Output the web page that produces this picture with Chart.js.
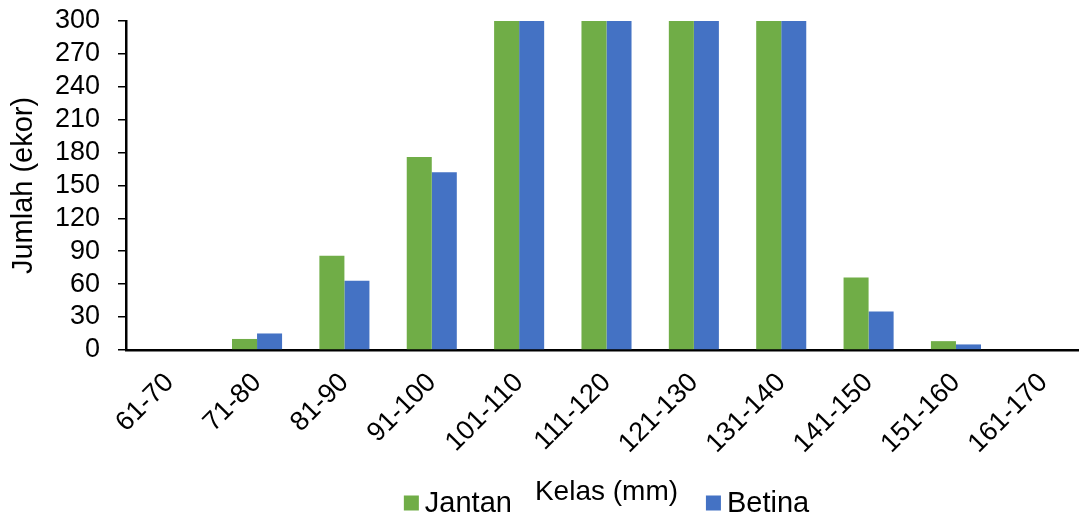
<!DOCTYPE html>
<html>
<head>
<meta charset="utf-8">
<script src="https://cdn.jsdelivr.net/npm/chart.js@4/dist/chart.umd.min.js"></script>
<style>
  html, body { margin: 0; padding: 0; background: #fff; overflow: hidden; }
  #wrap { position: relative; width: 1090px; height: 519px; }
</style>
</head>
<body>
<div id="wrap"><canvas id="c"></canvas></div>
<script>
// Size classes (mm)
const kelas = ['61-70', '71-80', '81-90', '91-100', '101-110', '111-120',
               '121-130', '131-140', '141-150', '151-160', '161-170'];

// Counts per class; the middle classes run past the top of the axis
const jantan = [0, 10, 86, 176, 420, 610, 560, 390, 66, 8, 0];
const betina = [0, 15, 63, 162, 400, 590, 530, 350, 35, 5, 0];

// Y axis ticks
const yTicks = [0, 30, 60, 90, 120, 150, 180, 210, 240, 270, 300];

const FONT = 'Liberation Sans, Arial, sans-serif';

// Legend drawn below the axis, split on either side of the axis title
const splitLegend = {
  id: 'splitLegend',
  afterDraw(chart, args, opts) {
    const ctx = chart.ctx;
    const area = chart.chartArea;
    ctx.save();
    ctx.font = opts.fontSize + 'px ' + FONT;
    ctx.textBaseline = 'middle';
    ctx.textAlign = 'left';
    const items = chart.data.datasets.map(ds => ({
      text: ds.label,
      color: ds.backgroundColor,
      w: opts.box + opts.boxGap + ctx.measureText(ds.label).width
    }));
    const total = items.reduce((s, it) => s + it.w, 0) + opts.gap * (items.length - 1);
    let x = (area.left + area.right) / 2 - total / 2;
    items.forEach(it => {
      ctx.fillStyle = it.color;
      ctx.fillRect(x, opts.y - opts.box / 2, opts.box, opts.box);
      ctx.fillStyle = '#000';
      ctx.fillText(it.text, x + opts.box + opts.boxGap, opts.y + 1);
      x += it.w + opts.gap;
    });
    ctx.restore();
  }
};

new Chart(document.getElementById('c'), {
  type: 'bar',
  data: {
    labels: kelas,
    datasets: [
      { label: 'Jantan', data: jantan, backgroundColor: '#70AD47' },
      { label: 'Betina', data: betina, backgroundColor: '#4472C4' }
    ]
  },
  plugins: [splitLegend],
  options: {
    responsive: true,
    maintainAspectRatio: false,
    animation: false,
    layout: { padding: { top: 21, right: 3, left: 0, bottom: 0 } },
    datasets: { bar: { categoryPercentage: 0.573, barPercentage: 1.0 } },
    plugins: {
      legend: { display: false },
      tooltip: { enabled: false },
      splitLegend: { y: 503, box: 15, boxGap: 6, gap: 194, fontSize: 29 }
    },
    scales: {
      x: {
        // rotated labels may hang past the plot edges; keep the plot width fixed
        afterFit(scale) { scale.paddingLeft = 0; scale.paddingRight = 0; },
        grid: { display: false, drawTicks: false },
        border: { display: true, color: '#000', width: 2.5 },
        ticks: {
          color: '#000',
          font: { family: FONT, size: 27 },
          minRotation: 45, maxRotation: 45,
          padding: 17,
          autoSkip: false
        },
        title: {
          display: true,
          text: 'Kelas (mm)',
          color: '#000',
          font: { family: FONT, size: 28 },
          padding: { top: -1.5, bottom: 10 }
        }
      },
      y: {
        min: 0, max: 300,
        afterFit(scale) { scale.paddingTop = 0; scale.paddingBottom = 0; scale.width = 126; },
        afterBuildTicks(scale) { scale.ticks = yTicks.map(v => ({ value: v })); },
        grid: { display: true, drawOnChartArea: false, drawTicks: true, tickLength: 8, color: '#000', lineWidth: 1.5 },
        border: { display: true, color: '#000', width: 2.5 },
        ticks: {
          color: '#000',
          font: { family: FONT, size: 27 },
          padding: 18,
          autoSkip: false
        },
        title: {
          display: true,
          text: 'Jumlah (ekor)',
          color: '#000',
          font: { family: FONT, size: 29 },
          padding: { top: 7, bottom: 14 }
        }
      }
    }
  }
});
</script>
</body>
</html>
